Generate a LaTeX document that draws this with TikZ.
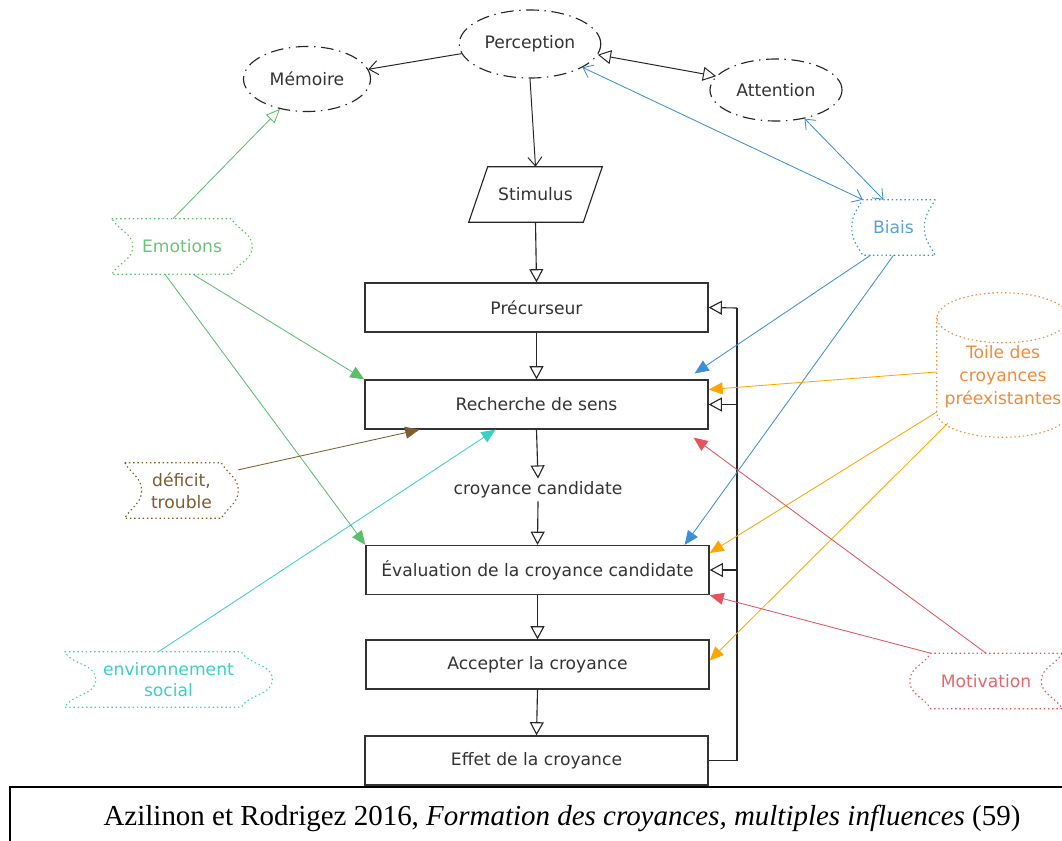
\documentclass[tikz,border=0pt]{standalone}
\usepackage{fontspec}
\setmainfont{DejaVu Sans}
\newfontfamily\capfont{Liberation Serif}
\usetikzlibrary{shapes.geometric,arrows.meta,calc}
\definecolor{emocol}{HTML}{5BBF6A}
\definecolor{biacol}{HTML}{3D8FD6}
\definecolor{toilecol}{HTML}{F28A3A}
\definecolor{toilearr}{HTML}{FFA500}
\definecolor{motcol}{HTML}{E5535E}
\definecolor{defcol}{HTML}{7A5E2E}
\definecolor{envcol}{HTML}{3CCFC4}
% stored data outline: convex left, concave right
\newcommand\flagL[3]{\draw[#3] (#1.north east) -- ($(#1.north west)+(#2,0)$) to[out=240,in=90] (#1.west)
  to[out=-90,in=120] ($(#1.south west)+(#2,0)$) -- (#1.south east)
  to[out=120,in=-90] ($(#1.east)+(-#2,0)$) to[out=90,in=240] (#1.north east);}
% the same, mirrored
\newcommand\flagR[3]{\draw[#3] (#1.north west) -- ($(#1.north east)+(-#2,0)$) to[out=-60,in=90] (#1.east)
  to[out=-90,in=60] ($(#1.south east)+(-#2,0)$) -- (#1.south west)
  to[out=60,in=-90] ($(#1.west)+(#2,0)$) to[out=90,in=-60] (#1.north west);}
\begin{document}
\begin{tikzpicture}[x=0.025cm,y=-0.025cm,
  barb/.tip={Straight Barb[length=0.22cm,width=0.35cm]},
  otri/.tip={Triangle[open,length=0.33cm,width=0.35cm]},
  every node/.style={font=\fontsize{12.2}{15.5}\selectfont, text=black!80},
  box/.style={draw=black!80, line width=0.9pt, minimum width=8.575cm, minimum height=1.225cm},
  bubble/.style={ellipse, draw=black!85, line width=0.8pt, dash pattern=on 9pt off 4pt on 1pt off 4pt},
  flow/.style={draw=black!85, line width=0.8pt, -otri},
  infl/.style={line width=0.6pt, -{Triangle[length=0.35cm,width=0.3cm]}},
  dots/.style={line width=0.8pt, dash pattern=on 1pt off 2pt},
  tag/.style={minimum height=1.375cm, inner sep=0pt, align=center}]
  \useasboundingbox (0,0) rectangle (1062,840);
  % upper part
  \node [bubble, minimum width=3.5cm, minimum height=1.7cm] (perc) at (530,44) {Perception};
  \node [bubble, minimum width=3.175cm, minimum height=1.625cm] (mem) at (307,79) {Mémoire};
  \node [bubble, minimum width=3.3cm, minimum height=1.55cm] (att) at (776,90) {Attention};
  \node [tag, minimum width=3.325cm] (stim) at (535.5,194.5) {Stimulus};
  \draw [line width=0.8pt, black!85] ($(stim.north west)+(19,0)$) -- (stim.north east)
    -- ($(stim.south east)+(-19,0)$) -- (stim.south west) -- cycle;
  \draw [line width=0.7pt, black!85, -barb] (perc.188) -- (mem.9);
  \draw [line width=0.7pt, black!85, otri-otri] (perc.-9) -- (att.167);
  \draw [line width=0.7pt, black!85, -barb] (perc.south) -- (stim.north);
  % main chain
  \node [box] (prec) at (536.5,307.5) {Précurseur};
  \node [box] (rech) at (536.5,404.5) {Recherche de sens};
  \node [inner sep=2pt] (cand) at (538,490) {croyance candidate};
  \node [box] (eval) at (537.5,570) {Évaluation de la croyance candidate};
  \node [box] (acc) at (537.5,664.5) {Accepter la croyance};
  \node [box] (eff) at (536.5,760.5) {Effet de la croyance};
  \draw [flow] (stim.south) -- (prec.north);
  \draw [flow] (prec.south) -- (rech.north);
  \draw [flow] (rech.south) -- (cand.north);
  \draw [flow] (cand.south) -- (eval.north);
  \draw [flow] (eval.south) -- (acc.north);
  \draw [flow] (acc.south) -- (eff.north);
  % feedback
  \coordinate (fbtop) at (737,308);
  \draw [line width=1.1pt, black!85] (eff.east) -| (fbtop);
  \draw [flow] (fbtop) -- (prec.east);
  \draw [flow] (fbtop |- rech.east) -- (rech.east);
  \draw [flow] (fbtop |- eval.east) -- (eval.east);
  % influences
  \node [tag, minimum width=3.5cm, text=emocol!90] (emo) at (182,246.5) {Emotions};
  \flagR{emo}{21}{dots, emocol}
  \node [tag, minimum width=2.825cm, text=defcol] (def) at (181.5,490.5) {déficit,\\trouble};
  \flagR{def}{17}{dots, defcol}
  \node [tag, minimum width=5.175cm, text=envcol] (env) at (168.5,679.5) {environnement\\social};
  \flagR{env}{31}{dots, envcol}
  \node [tag, minimum width=2.075cm, text=biacol!85] (bias) at (893.5,227.5) {Biais};
  \flagL{bias}{11}{dots, biacol}
  \node [tag, minimum width=3.8cm, text=motcol!90] (mot) at (986,681) {Motivation};
  \flagL{mot}{21}{dots, motcol}
  \node [minimum width=3.3cm, minimum height=3.6cm, inner sep=0pt, align=center, text=toilecol,
    font=\fontsize{12.2}{16.5}\selectfont] (toile) at (1003,377) {Toile des\\croyances\\préexistantes};
  \draw [dots, toilecol] (toile.north) ++(0,13) ellipse [x radius=1.65cm, y radius=0.625cm];
  \draw [dots, toilecol] ($(toile.north west)+(0,13)$) -- ($(toile.south west)+(0,-37)$)
    arc [start angle=180, end angle=360, x radius=1.65cm, y radius=0.625cm] -- ($(toile.north east)+(0,13)$);
  \draw [infl, emocol, -{Triangle[open,length=0.35cm,width=0.3cm]}] ($(emo.north)+(-9,0)$) -- (mem.228);
  \draw [infl, emocol] ($(emo.south)+(11,0)$) -- (rech.north west);
  \draw [infl, emocol] ($(emo.south)+(-17,0)$) -- (eval.north west);
  \draw [infl, defcol] (def.20) -- ($(rech.south west)+(55,0)$);
  \draw [infl, envcol] ($(env.north)+(-10,0)$) -- ($(rech.south)+(-41,0)$);
  \draw [line width=0.6pt, biacol, barb-barb] ($(bias.north west)+(11,0)$) -- (perc.-24);
  \draw [line width=0.6pt, biacol, barb-barb] ($(bias.north)+(-10,0)$) -- (att.-45);
  \draw [infl, biacol] ($(bias.south)+(-23,0)$) -- ($(rech.north east)+(-14,-6)$);
  \draw [infl, biacol] (bias.south) -- ($(eval.north east)+(-25,0)$);
  \draw [infl, toilearr] ($(toile.west)+(0,-5)$) -- ($(rech.east)+(0,-15)$);
  \draw [infl, toilearr] ($(toile.west)+(0,35)$) -- ($(eval.east)+(0,-17)$);
  \draw [infl, toilearr] ($(toile.south west)+(11,-26)$) -- ($(acc.east)+(0,-4)$);
  \draw [infl, motcol] (mot.north) -- ($(rech.south east)+(-15,8)$);
  \draw [infl, motcol] ($(mot.north west)+(21,0)$) -- (eval.south east);
  % caption
  \draw [line width=1.6pt] (10,787) rectangle (1075,850);
  \node [text=black] (cap) at (562,818) {\capfont\fontsize{20.6}{24}\selectfont Azilinon et Rodrigez 2016, \textit{Formation des croyances, multiples influences} (59)};
\end{tikzpicture}
\end{document}
